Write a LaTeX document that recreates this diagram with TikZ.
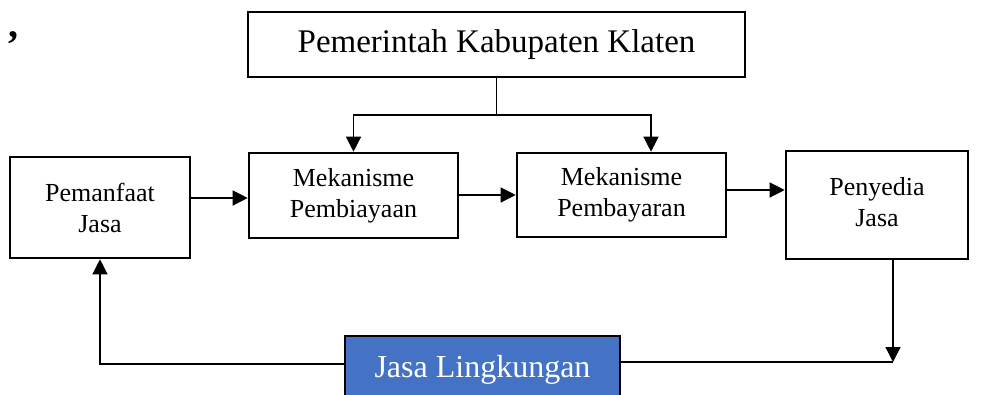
\documentclass[tikz,border=0pt]{standalone}
\usepackage{fontspec}
\setmainfont{Liberation Serif}
\usetikzlibrary{arrows.meta}
\definecolor{jasablue}{HTML}{4472C4}
\begin{document}
\begin{tikzpicture}[x=1pt,y=-1pt,>={Triangle[length=15pt,width=15pt]},line join=miter,
	box/.style={draw,line width=2.6pt,align=center,inner sep=0pt,font=\fontsize{26}{31}\selectfont},
	link/.style={line width=1.3pt}]
	\useasboundingbox (0,0) rectangle (983,394);
	\node[anchor=base,inner sep=0pt,text height=9pt,text depth=9pt,font=\fontsize{40}{44}\selectfont\bfseries] (koma) at (14,37) {,};
	\node[box,minimum width=497pt,minimum height=65pt,font=\fontsize{33}{38}\selectfont] (pemerintah) at (496.5,44.5) {Pemerintah Kabupaten Klaten};
	\node[box,minimum width=180pt,minimum height=101pt] (pemanfaat) at (100,207.5) {Pemanfaat\\Jasa};
	\node[box,minimum width=209pt,minimum height=85pt] (pembiayaan) at (353.5,195.5) {Mekanisme\\Pembiayaan};
	\node[box,minimum width=209pt,minimum height=84pt] (pembayaran) at (621.5,195) {Mekanisme\\Pembayaran};
	\node[box,minimum width=182pt,minimum height=108pt] (penyedia) at (877,205) {\raisebox{9pt}{\begin{tabular}{@{}c@{}}Penyedia\\Jasa\end{tabular}}};
	\node[box,fill=jasablue,text=white,minimum width=275pt,minimum height=68pt,font=\fontsize{32}{38}\selectfont] (jasa) at (482.5,370) {\raisebox{-2pt}{Jasa Lingkungan}};
	\coordinate (cabang) at (496.5,115);
	\coordinate (sudut) at (893,362);
	\draw[link] (pemerintah.south) -- (cabang);
	\draw[link,->] (cabang) -| (pembiayaan.north);
	\draw[link,->] (cabang) -| ([xshift=29.5pt]pembayaran.north);
	\draw[link,->] (pemanfaat.east |- 0,198) -- (pembiayaan.west |- 0,198);
	\draw[link,->] (pembiayaan.east |- 0,195) -- (pembayaran.west |- 0,195);
	\draw[link,->] (pembayaran.east |- 0,190) -- (penyedia.west |- 0,190);
	\draw[link,->] ([xshift=16pt]penyedia.south) -- (sudut);
	\draw[link] (jasa.east |- sudut) -- (sudut);
	\draw[link,->] (jasa.west |- 0,364) -| (pemanfaat.south);
\end{tikzpicture}
\end{document}
